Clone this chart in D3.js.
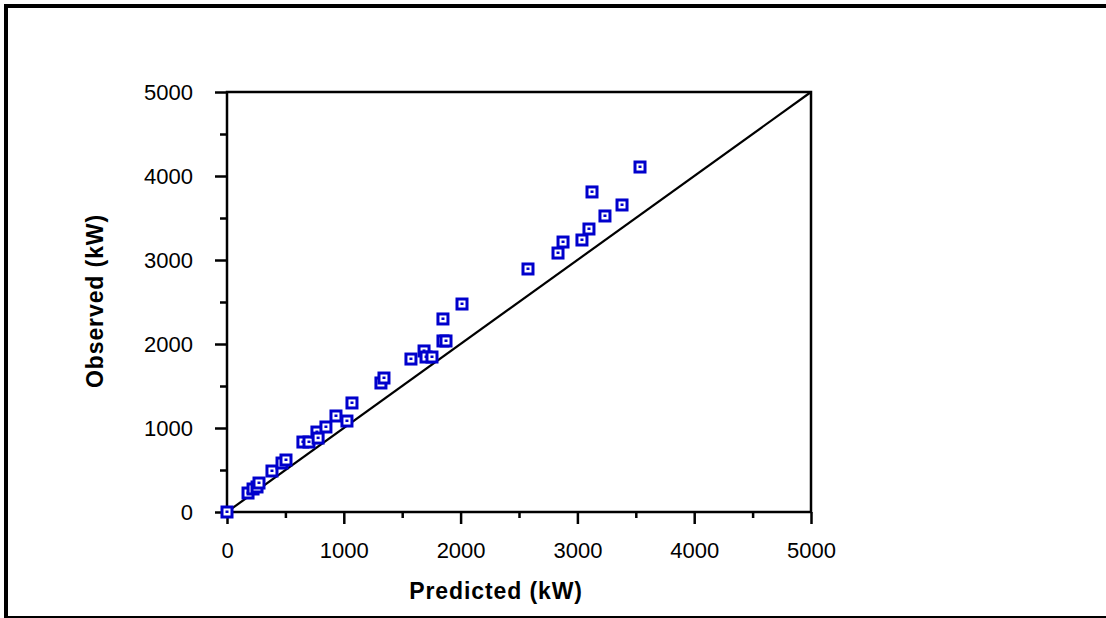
<!DOCTYPE html>
<html>
<head>
<meta charset="utf-8">
<script src="https://cdn.jsdelivr.net/npm/d3@7"></script>
<style>
  html, body { margin: 0; padding: 0; background: #fff; }
  svg { display: block; }
  text { font-family: "Liberation Sans", Arial, sans-serif; fill: #000; }
</style>
</head>
<body>
<svg id="chart" width="1106" height="618"></svg>
<script>
// Predicted vs observed power (kW)
const predicted = [0, 180, 223, 257, 274, 385, 471, 505, 650, 702, 770, 780, 847, 933, 1027, 1070,
  1318, 1344, 1575, 1687, 1704, 1755, 1849, 1875, 1849, 2012,
  2577, 2834, 2877, 3039, 3099, 3236, 3382, 3125, 3536];
const observed = [0, 226, 274, 298, 345, 488, 583, 619, 833, 833, 952, 880, 1012, 1143, 1083, 1298,
  1536, 1595, 1821, 1917, 1845, 1845, 2036, 2036, 2298, 2476,
  2893, 3083, 3214, 3238, 3369, 3524, 3655, 3810, 4107];
const axisDomain = [0, 5000];
const majorTicks = [0, 1000, 2000, 3000, 4000, 5000];
const minorTicks = [500, 1500, 2500, 3500, 4500];
const xTitle = "Predicted (kW)";
const yTitle = "Observed (kW)";

const svg = d3.select("#chart");
const plot = { left: 227, right: 811, top: 92, bottom: 512 };

const x = d3.scaleLinear().domain(axisDomain).range([plot.left, plot.right]);
const y = d3.scaleLinear().domain(axisDomain).range([plot.bottom, plot.top]);

// outer frame
svg.append("rect")
  .attr("x", 6).attr("y", 6).attr("width", 1110).attr("height", 612)
  .attr("fill", "none").attr("stroke", "#000").attr("stroke-width", 4);

// plot box
svg.append("rect")
  .attr("x", plot.left).attr("y", plot.top)
  .attr("width", plot.right - plot.left).attr("height", plot.bottom - plot.top)
  .attr("fill", "none").attr("stroke", "#000").attr("stroke-width", 2.5);

// x axis: major + minor ticks
svg.append("g").attr("transform", `translate(0,${plot.bottom})`)
  .call(d3.axisBottom(x).tickValues(majorTicks).tickFormat(d3.format("d")).tickSize(12).tickPadding(18));
svg.append("g").attr("transform", `translate(0,${plot.bottom})`)
  .call(d3.axisBottom(x).tickValues(minorTicks).tickFormat("").tickSize(6));

// y axis: major + minor ticks
const yAxis = svg.append("g").attr("transform", `translate(${plot.left},0)`)
  .call(d3.axisLeft(y).tickValues(majorTicks).tickFormat(d3.format("d")).tickSize(12).tickPadding(22));
svg.append("g").attr("transform", `translate(${plot.left},0)`)
  .call(d3.axisLeft(y).tickValues(minorTicks).tickFormat("").tickSize(7));

svg.selectAll(".domain").remove();
svg.selectAll(".tick line").attr("stroke", "#000").attr("stroke-width", 2.5);
svg.selectAll(".tick text")
  .style("font-family", "'Liberation Sans', Arial, sans-serif")
  .style("font-size", "22px").attr("fill", "#000");
yAxis.selectAll(".tick text").attr("dy", "0.35em");

// 1:1 reference line
svg.append("line")
  .attr("x1", x(axisDomain[0])).attr("y1", y(axisDomain[0]))
  .attr("x2", x(axisDomain[1])).attr("y2", y(axisDomain[1]))
  .attr("stroke", "#000").attr("stroke-width", 2.2);

// data markers: hollow squares with a centre dot
const pts = predicted.map((p, i) => ({ p, o: observed[i] }));
const marks = svg.append("g").selectAll("g").data(pts).join("g")
  .attr("transform", d => `translate(${x(d.p)},${y(d.o)})`);
marks.append("rect")
  .attr("x", -5).attr("y", -5).attr("width", 10).attr("height", 10)
  .attr("fill", "#fff").attr("stroke", "#0000cc").attr("stroke-width", 3);
marks.append("rect")
  .attr("x", -1.5).attr("y", -1.5).attr("width", 3).attr("height", 2.5)
  .attr("fill", "#0000cc");

// axis titles
svg.append("text")
  .attr("x", 496).attr("y", 599)
  .attr("text-anchor", "middle")
  .style("font-size", "23px").style("font-weight", "bold").style("letter-spacing", "0.9px")
  .text(xTitle);
svg.append("text")
  .attr("transform", "translate(103,301) rotate(-90)")
  .attr("text-anchor", "middle")
  .style("font-size", "23px").style("font-weight", "bold").style("letter-spacing", "0.9px")
  .text(yTitle);
</script>
</body>
</html>
